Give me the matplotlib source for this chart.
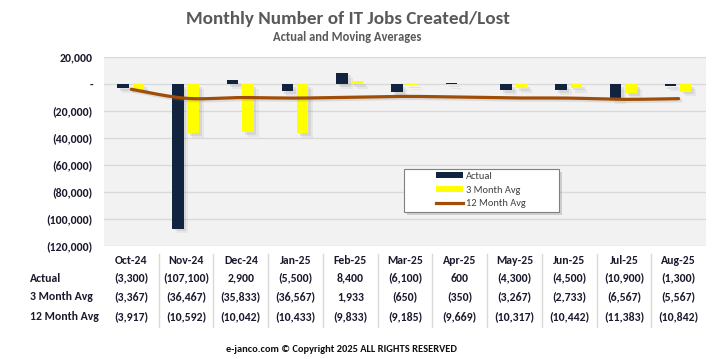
import numpy as np
import matplotlib
matplotlib.use('Agg')
from matplotlib import pyplot as plt
from matplotlib import patheffects as pe
from matplotlib.patches import Rectangle, Patch
from matplotlib.lines import Line2D
from matplotlib.transforms import blended_transform_factory

plt.rcParams['font.family'] = ['Carlito', 'Liberation Sans Narrow', 'DejaVu Sans']

#############
# Chart data #
#############

months = ['Oct-24', 'Nov-24', 'Dec-24', 'Jan-25', 'Feb-25', 'Mar-25',
          'Apr-25', 'May-25', 'Jun-25', 'Jul-25', 'Aug-25']
actual = [-3300, -107100, 2900, -5500, 8400, -6100, 600, -4300, -4500, -10900, -1300]
avg_3m = [-3367, -36467, -35833, -36567, 1933, -650, -350, -3267, -2733, -6567, -5567]
avg_12m = [-3917, -10592, -10042, -10433, -9833, -9185, -9669, -10317, -10442, -11383, -10842]
y_ticks = [20000, 0, -20000, -40000, -60000, -80000, -100000, -120000]

row_names = ['Actual', '3 Month Avg', '12 Month Avg']

navy = '#12233f'
yellow = '#ffff00'
brown = '#a04d08'
txt_dark = '#1a1a2e'


def fmt(v):
    # accounting style: negatives in brackets, zero as a dash
    if v == 0:
        return '-'
    if v < 0:
        return '({:,})'.format(-v)
    return '{:,}'.format(v)


def smooth(xs, ys, n=20):
    # catmull-rom curve through the points (like Excel's smoothed line)
    pts = np.column_stack([xs, ys]).astype(float)
    p = np.vstack([pts[0], pts, pts[-1]])
    out = []
    t = np.linspace(0, 1, n)[:, None]
    for i in range(1, len(p) - 2):
        p0, p1, p2, p3 = p[i - 1], p[i], p[i + 1], p[i + 2]
        seg = 0.5 * (2 * p1 + (-p0 + p2) * t
                     + (2 * p0 - 5 * p1 + 4 * p2 - p3) * t ** 2
                     + (-p0 + 3 * p1 - 3 * p2 + p3) * t ** 3)
        out.append(seg)
    out = np.vstack(out)
    return out[:, 0], out[:, 1]


W, H = 717, 359
fig = plt.figure(figsize=(W / 100, H / 100), dpi=100)
ax = fig.add_axes([104 / W, 1 - 246 / H, 602 / W, 189 / H])
ax.set_facecolor('#f2f2f2')

x = np.arange(len(months))
# soft shadow: two light layers
shadow = [pe.SimplePatchShadow(offset=(3.5, -3.5), shadow_rgbFace='#7f7f7f', alpha=0.10),
          pe.SimplePatchShadow(offset=(2, -2), shadow_rgbFace='#7f7f7f', alpha=0.16),
          pe.Normal()]

ax.bar(x - 0.15, actual, width=0.21, color=navy, zorder=3, path_effects=shadow)
ax.bar(x + 0.13, avg_3m, width=0.21, color=yellow, zorder=3, path_effects=shadow)
sx, sy = smooth(x, avg_12m)
ax.plot(sx, sy, color=brown, lw=2.3, zorder=4, solid_capstyle='round',
        path_effects=[pe.SimpleLineShadow(offset=(1.5, -1.5), shadow_color='#7f7f7f', alpha=0.2), pe.Normal()])

ax.set_xlim(-0.5, len(months) - 0.5)
ax.set_ylim(-120000, 20000)
ax.set_yticks(y_ticks)
ax.set_yticklabels([fmt(v) for v in y_ticks], fontsize=8.5, fontweight='bold', color=txt_dark)
ax.set_xticks([])
ax.tick_params(axis='y', length=0, pad=8)
ax.grid(axis='y', color='#d9d9d9', lw=1, zorder=0)
for s in ax.spines.values():
    s.set_visible(False)

# titles
fig.text(348 / W, 1 - 19 / H, 'Monthly Number of IT Jobs Created/Lost', ha='center', va='center',
         fontsize=13.8, fontweight='bold', color='#595959')
fig.text(347 / W, 1 - 37 / H, 'Actual and Moving Averages', ha='center', va='center',
         fontsize=9, fontweight='bold', color='#595959')

# legend
lx0, ly0, lx1, ly1 = 404, 169, 559, 212
frame = Rectangle((lx0 / W, 1 - ly1 / H), (lx1 - lx0) / W, (ly1 - ly0) / H, transform=fig.transFigure,
                  facecolor='white', edgecolor='#808080', lw=0.8, zorder=10,
                  path_effects=[pe.SimplePatchShadow(offset=(2, -2), shadow_rgbFace='#7f7f7f', alpha=0.3), pe.Normal()])
fig.patches.append(frame)
handles = [Patch(facecolor=navy), Patch(facecolor=yellow), Line2D([], [], color=brown, lw=2.3)]
leg = fig.legend(handles, ['Actual', '3 Month Avg', '12 Month Avg'], loc='upper left',
                 bbox_to_anchor=(436 / W, 1 - 172 / H), frameon=False, borderpad=0, borderaxespad=0,
                 fontsize=7.5, handlelength=2.6, handleheight=0.55, handletextpad=0.3, labelspacing=0.45,
                 labelcolor='#404040')
leg.set_zorder(11)

# data table under the chart
tr = blended_transform_factory(ax.transData, fig.transFigure)
row_y = [278, 297, 317]
for i, m in enumerate(months):
    ax.text(i, 1 - 261 / H, m, transform=tr, ha='center', va='center', fontsize=8.5,
            fontweight='bold', color=txt_dark, clip_on=False)
    for vals, yy in zip([actual, avg_3m, avg_12m], row_y):
        ax.text(i, 1 - yy / H, fmt(vals[i]), transform=tr, ha='center', va='center', fontsize=8.5,
                fontweight='bold', color=txt_dark, clip_on=False)
for name, yy in zip(row_names, row_y):
    fig.text(30 / W, 1 - yy / H, name, ha='left', va='center', fontsize=8.5,
             fontweight='bold', color=txt_dark)
for b in np.arange(0.5, len(months) - 1, 1.0):
    fig.add_artist(Line2D([b, b], [1 - 254 / H, 1 - 327 / H], transform=tr, color='#d9d9d9', lw=1))

fig.text(342 / W, 1 - 349 / H, 'e-janco.com \u00a9 Copyright 2025 ALL RIGHTS RESERVED', ha='center',
         va='center', fontsize=7.5, fontweight='bold', color='#111111')

fig.savefig('out.png', dpi=100)
